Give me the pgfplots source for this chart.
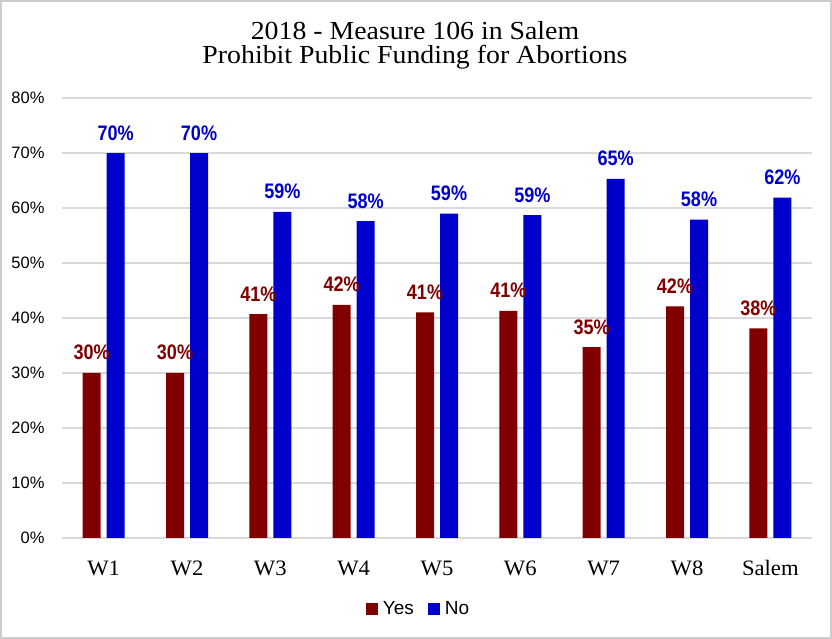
\documentclass[border=0pt]{standalone}
\usepackage{fontspec}
\setmainfont{Liberation Serif}
\setsansfont{Liberation Sans}
\newfontfamily\titlefont[FakeStretch=1.07]{Liberation Serif}
\newfontfamily\tickfont[FakeStretch=1.03]{Liberation Serif}
\newfontfamily\valfont[FakeStretch=0.86]{Liberation Sans}
\usepackage{pgfplots}
\pgfplotsset{compat=1.18}
\definecolor{yesred}{RGB}{128,0,0}
\definecolor{noblue}{RGB}{0,0,204}
\definecolor{gridgray}{RGB}{217,217,217}
\definecolor{framegray}{RGB}{205,205,205}
\begin{document}
\begin{tikzpicture}
\useasboundingbox (0,0) rectangle (832pt,639pt);
\draw[framegray, line width=2pt] (1pt,1pt) rectangle (831pt,638pt);
\node[anchor=base, font=\titlefont\fontsize{26}{26}\selectfont] at (415pt,599pt) {2018 - Measure 106 in Salem};
\node[anchor=base, font=\titlefont\fontsize{26}{26}\selectfont] at (415pt,575pt) {Prohibit Public Funding for Abortions};
\begin{axis}[
    at={(62pt,101pt)}, anchor=south west,
    width=750pt, height=440pt, scale only axis,
    ybar=6pt, bar width=18pt,
    xmin=-0.5, xmax=8.5, ymin=0, ymax=80,
    xtick=data,
    xticklabels={W1,W2,W3,W4,W5,W6,W7,W8,Salem},
    x tick label style={font=\tickfont\fontsize{22}{22}\selectfont, anchor=base, yshift=-38pt},
    ytick={0,10,...,80},
    yticklabel={\pgfmathprintnumber{\tick}\%},
    y tick label style={font=\sffamily\fontsize{16.5}{16.5}\selectfont, xshift=-14pt},
    /pgf/number format/assume math mode=true,
    ymajorgrids, grid style={gridgray, line width=1.2pt},
    axis line style={draw=none}, major tick length=0pt,
    nodes near coords={\pgfmathprintnumber[fixed,precision=0]{\pgfplotspointmeta}\%},
    nodes near coords style={anchor=base, yshift=13pt, inner sep=0pt, font=\valfont\bfseries\fontsize{21}{21}\selectfont},
    legend style={at={(0.4753,-0.161)}, anchor=center, draw=none, legend columns=-1,
        font=\sffamily\fontsize{19}{19}\selectfont,
        /tikz/every odd column/.append style={column sep=3pt},
        /tikz/every even column/.append style={column sep=12pt}},
    legend image code/.code={\fill[#1] (0pt,-6pt) rectangle (12pt,6pt);},
]
\addplot[fill=yesred, draw=none, nodes near coords style={text=yesred}] coordinates {
    (0,30.0) (1,30.0) (2,40.7) (3,42.4) (4,41.0) (5,41.3) (6,34.7) (7,42.1) (8,38.1)};
\addplot[fill=noblue, draw=none, nodes near coords style={text=noblue}] coordinates {
    (0,70.0) (1,70.0) (2,59.3) (3,57.6) (4,59.0) (5,58.7) (6,65.3) (7,57.9) (8,61.9)};
\legend{Yes, No}
\end{axis}
\end{tikzpicture}
\end{document}
